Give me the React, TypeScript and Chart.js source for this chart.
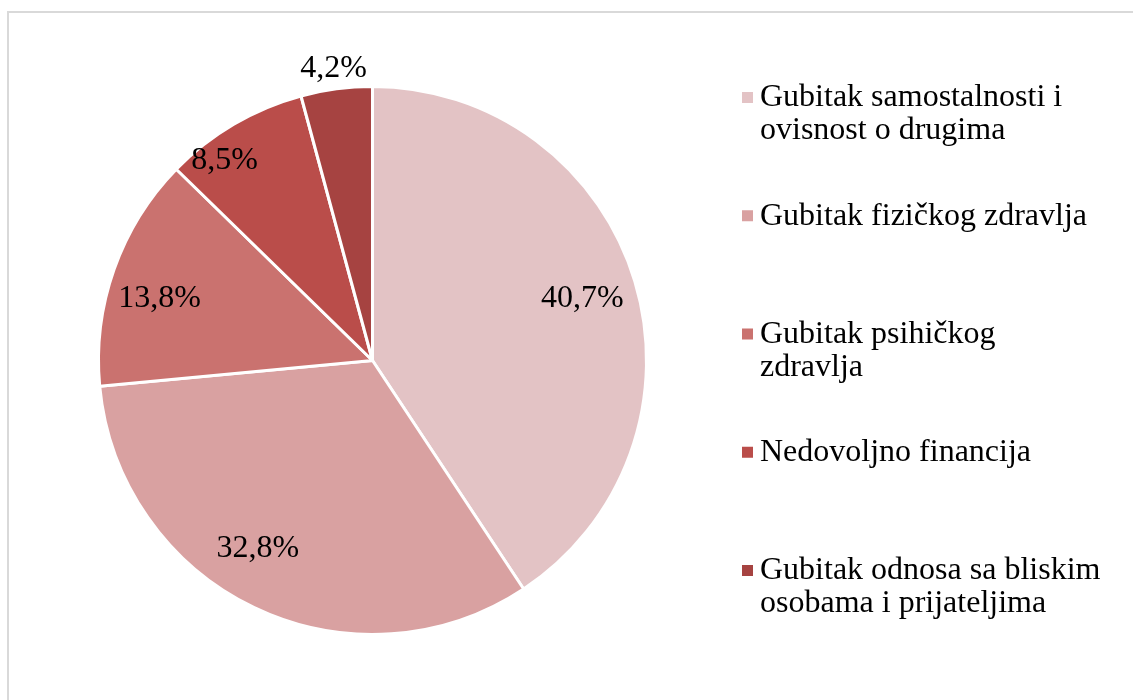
import React, { useEffect, useRef } from "react";
import { Chart, registerables } from "chart.js";

Chart.register(...registerables);

const categories = [
  "Gubitak samostalnosti i ovisnost o drugima",
  "Gubitak fizičkog zdravlja",
  "Gubitak psihičkog zdravlja",
  "Nedovoljno financija",
  "Gubitak odnosa sa bliskim osobama i prijateljima",
];
const legendLines = [
  ["Gubitak samostalnosti i", "ovisnost o drugima"],
  ["Gubitak fizičkog zdravlja"],
  ["Gubitak psihičkog", "zdravlja"],
  ["Nedovoljno financija"],
  ["Gubitak odnosa sa bliskim", "osobama i prijateljima"],
];
const values = [40.7, 32.8, 13.8, 8.5, 4.2];
const colors = ["#E3C3C5", "#D9A1A1", "#CA726F", "#BA4D4A", "#A64341"];
const labelRadius = [0.8, 0.8, 0.81, 0.91, 1.08];
const labelAngleShiftDeg = [0, 6, -3, -6, 0];

const FONT = "'Liberation Serif', 'Times New Roman', serif";

const labelPlugin = {
  id: "sliceLabels",
  afterDatasetsDraw(chart: any) {
    const ctx = chart.ctx;
    const meta = chart.getDatasetMeta(0);
    ctx.save();
    ctx.font = `32px ${FONT}`;
    ctx.fillStyle = "#000";
    ctx.textAlign = "center";
    ctx.textBaseline = "middle";
    meta.data.forEach((arc: any, i: number) => {
      const p = arc.getProps(["x", "y", "startAngle", "endAngle", "outerRadius"], true);
      const mid = (p.startAngle + p.endAngle) / 2 + (labelAngleShiftDeg[i] * Math.PI) / 180;
      const r = p.outerRadius * labelRadius[i];
      const x = p.x + Math.cos(mid) * r;
      const y = p.y + Math.sin(mid) * r + 1;
      const txt = values[i].toFixed(1).replace(".", ",") + "%";
      ctx.fillText(txt, x, y);
    });
    ctx.restore();
  },
};

const legendPlugin = {
  id: "customLegend",
  afterDraw(chart: any) {
    const ctx = chart.ctx;
    ctx.save();
    ctx.font = `32px ${FONT}`;
    ctx.textAlign = "left";
    ctx.textBaseline = "middle";
    const startY = 98;
    const step = 118.25;
    const lineH = 33;
    legendLines.forEach((lines, i) => {
      const y0 = startY + i * step;
      ctx.fillStyle = colors[i];
      ctx.fillRect(742, y0 - 6, 11, 11);
      ctx.fillStyle = "#000";
      lines.forEach((ln, j) => {
        ctx.fillText(ln, 760, y0 + j * lineH);
      });
    });
    ctx.restore();
  },
};

export default function App() {
  const ref = useRef<HTMLCanvasElement | null>(null);
  useEffect(() => {
    if (!ref.current) return;
    const chart = new Chart(ref.current, {
      type: "pie",
      data: {
        labels: categories,
        datasets: [
          {
            data: values,
            backgroundColor: colors,
            borderColor: "#ffffff",
            borderWidth: 3,
          },
        ],
      },
      options: {
        animation: false,
        responsive: false,
        maintainAspectRatio: false,
        layout: { padding: { left: 97, right: 485, top: 85, bottom: 64 } },
        plugins: {
          legend: { display: false },
          tooltip: { enabled: false },
        },
      },
      plugins: [labelPlugin, legendPlugin],
    });
    return () => chart.destroy();
  }, []);
  return (
    <div
      style={{
        position: "fixed",
        left: 0,
        top: 0,
        width: 1133,
        height: 700,
        overflow: "hidden",
        background: "#fff",
      }}
    >
      <div
        style={{
          position: "absolute",
          left: 7,
          top: 11,
          width: 1200,
          height: 800,
          border: "2px solid #d9d9d9",
        }}
      />
      <canvas
        ref={ref}
        width={1133}
        height={700}
        style={{ position: "absolute", left: 0, top: 0, width: 1133, height: 700 }}
      />
    </div>
  );
}
